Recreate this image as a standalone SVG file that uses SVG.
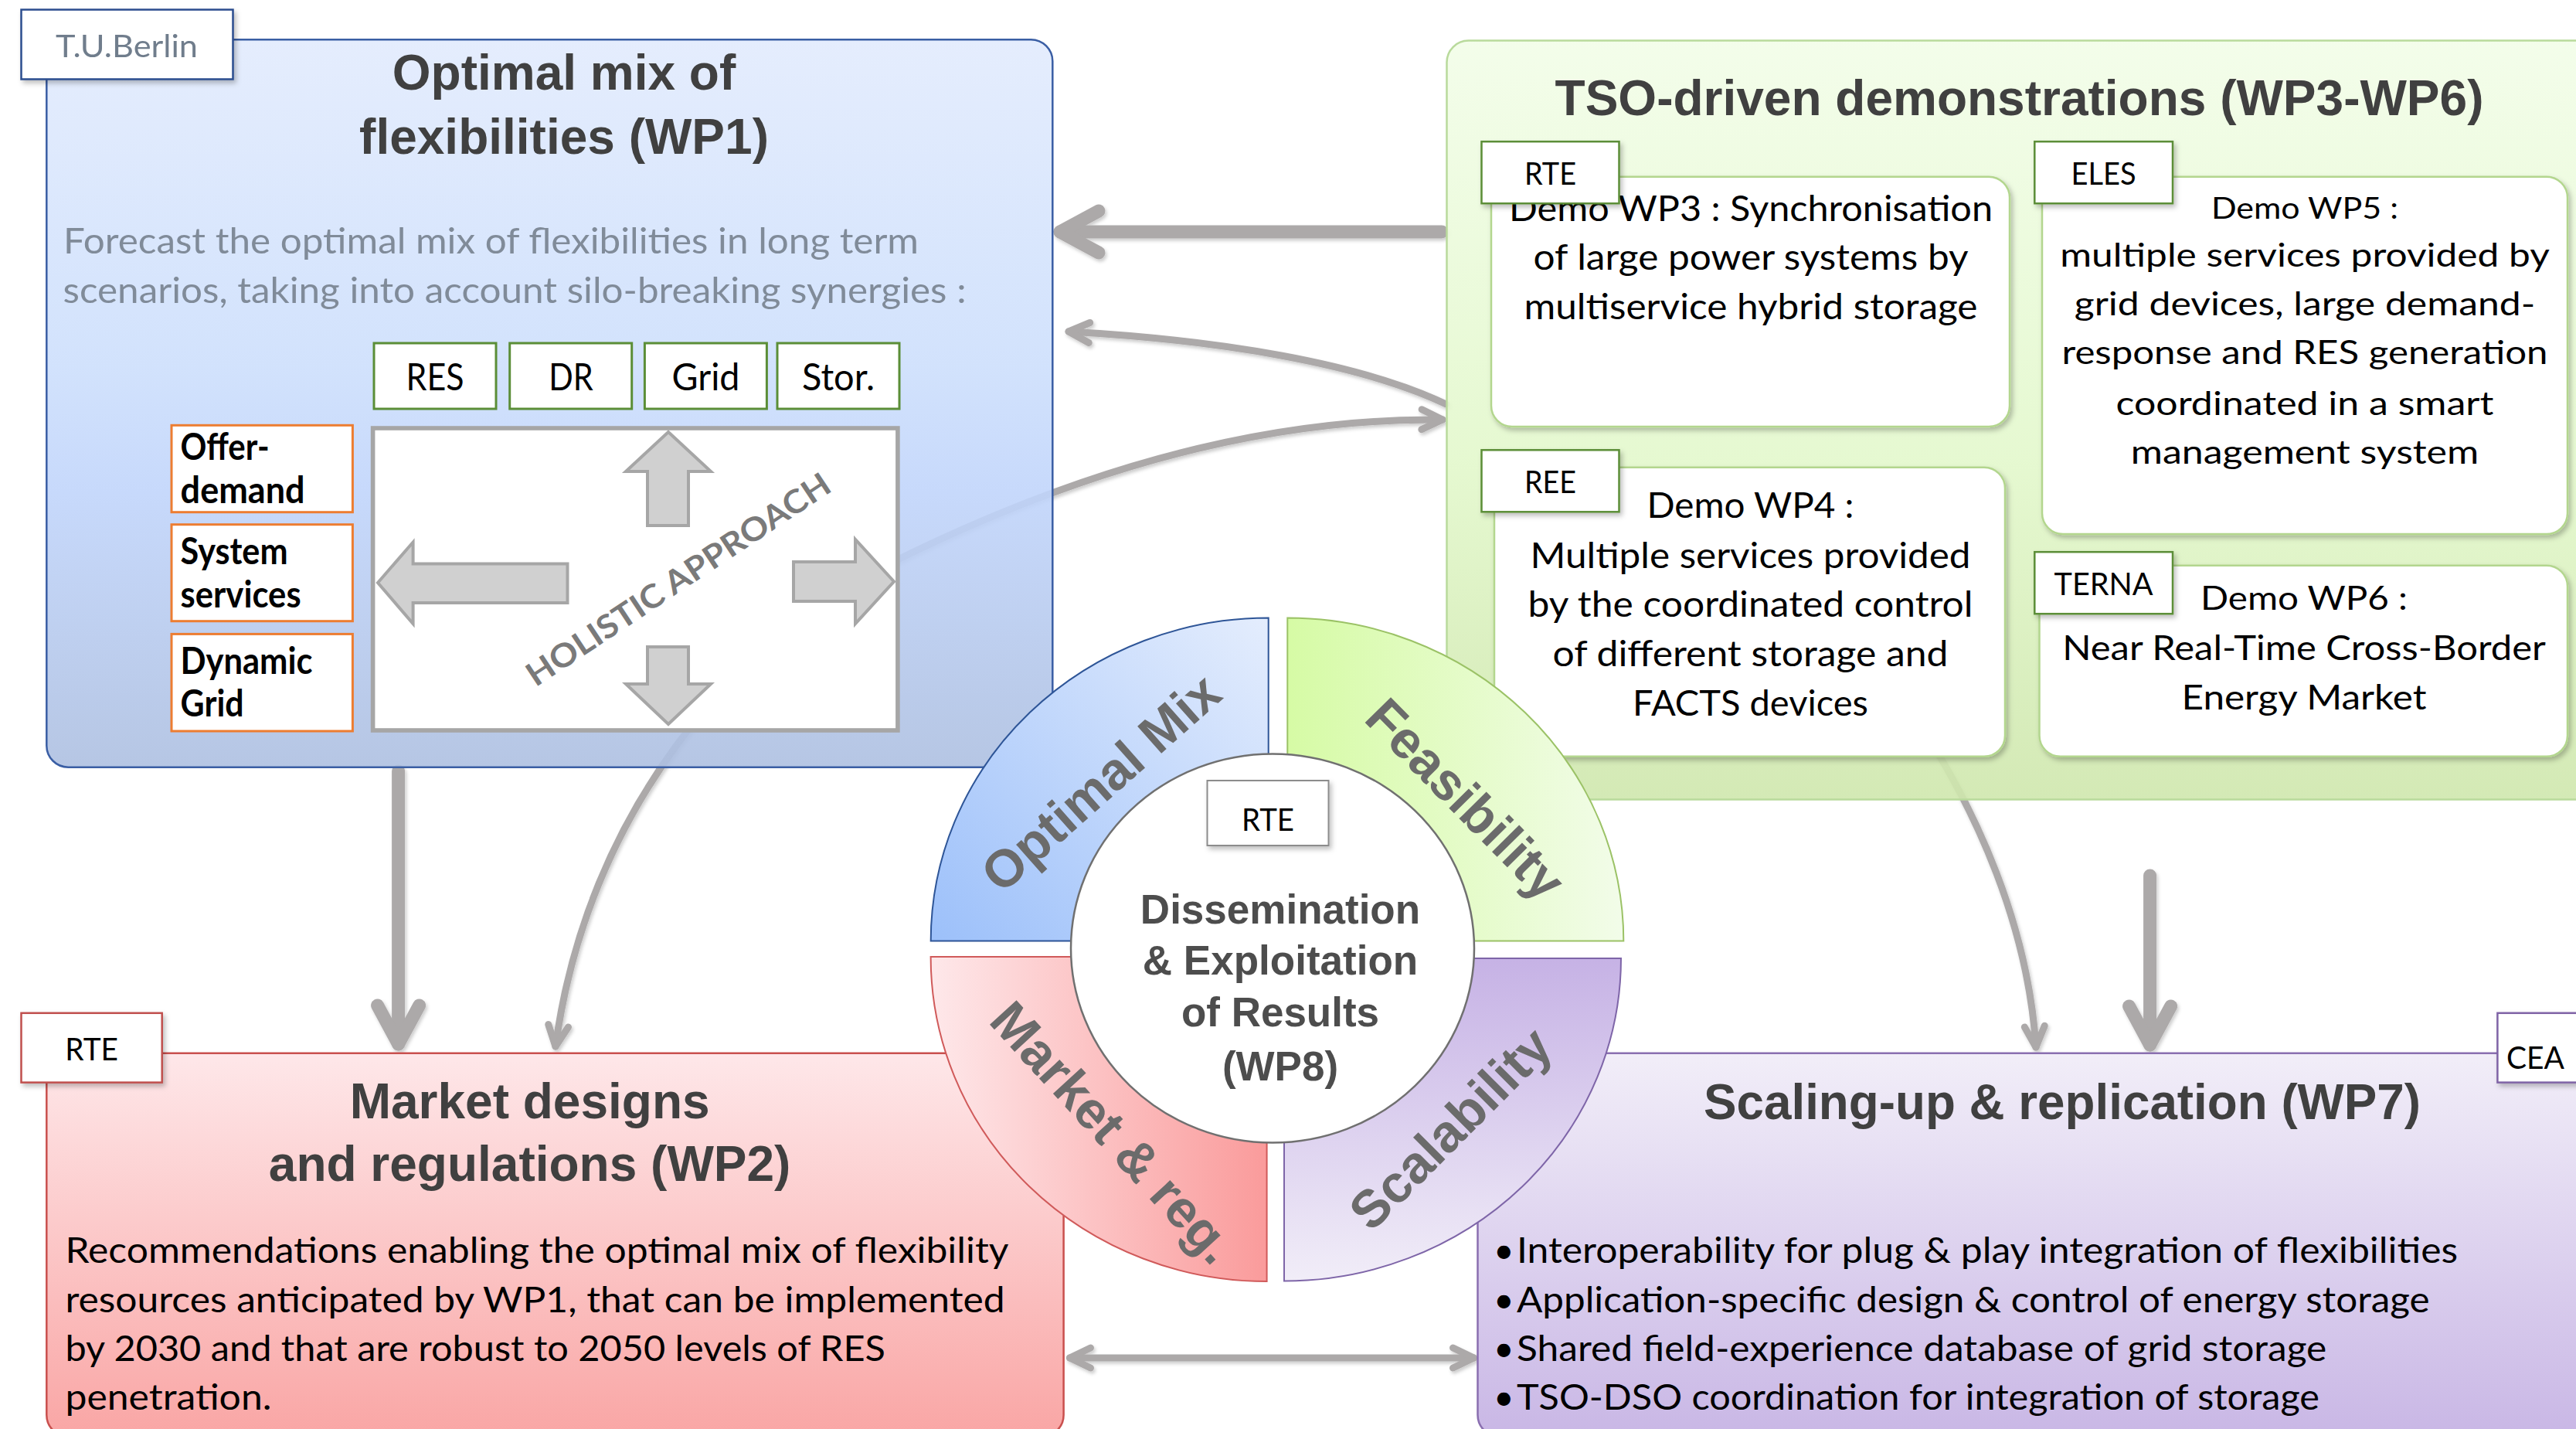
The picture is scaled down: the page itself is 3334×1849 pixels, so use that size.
<svg xmlns="http://www.w3.org/2000/svg" width="3334" height="1849" viewBox="0 0 3334 1849">
<defs>
<style>
.ttl{font-family:'Liberation Sans',Arial,sans-serif;font-weight:bold;font-size:64px;fill:#404040}
.ctr{font-family:'Liberation Sans',Arial,sans-serif;font-weight:bold;font-size:53px;fill:#4d4d4d;text-anchor:middle}
.q{font-family:'Liberation Sans',Arial,sans-serif;font-weight:bold;font-size:68px;fill:#6b6b6b;text-anchor:middle}
.t{font-family:Lato,'Open Sans',sans-serif;fill:#000}
.sub{font-family:Lato,'Open Sans',sans-serif;font-size:47px;fill:#808b99}
.bd{font-family:Lato,'Open Sans',sans-serif;font-weight:bold;font-size:47px;fill:#000}
.lb{font-family:Lato,'Open Sans',sans-serif;font-size:41px;fill:#000;text-anchor:middle}
.mid{text-anchor:middle}
.wbox{fill:#fff;stroke:#b3d68e;stroke-width:2.5}
.glbl{fill:#fff;stroke:#5b8e37;stroke-width:2.5}
.arr{fill:#d0d0d0;stroke:#a6a6a6;stroke-width:4;stroke-linejoin:miter}
</style>
<linearGradient id="gBlue" x1="0" y1="0" x2="0" y2="1">
<stop offset="0" stop-color="#e2ebfd"/><stop offset="0.45" stop-color="#cddffc"/><stop offset="0.62" stop-color="#c1d5fb"/><stop offset="1" stop-color="#aec0e1"/>
</linearGradient>
<linearGradient id="gGreen" x1="0" y1="0" x2="0" y2="1">
<stop offset="0" stop-color="#f2fde8"/><stop offset="0.55" stop-color="#e3f8cc"/><stop offset="1" stop-color="#cfe7ad"/>
</linearGradient>
<linearGradient id="gRed" x1="0" y1="0" x2="0" y2="1">
<stop offset="0" stop-color="#fee6e8"/><stop offset="1" stop-color="#f9a1a0"/>
</linearGradient>
<linearGradient id="gPurple" x1="0" y1="0" x2="0" y2="1">
<stop offset="0" stop-color="#f1edf8"/><stop offset="1" stop-color="#c6b3e4"/>
</linearGradient>
<linearGradient id="qBlue" x1="1" y1="0" x2="0" y2="1">
<stop offset="0" stop-color="#e4edfd"/><stop offset="1" stop-color="#9cc0fa"/>
</linearGradient>
<linearGradient id="qGreen" x1="0" y1="0" x2="1" y2="0">
<stop offset="0" stop-color="#d6fba5"/><stop offset="1" stop-color="#f2fce9"/>
</linearGradient>
<linearGradient id="qRed" x1="0" y1="0" x2="1" y2="0">
<stop offset="0" stop-color="#fee8ea"/><stop offset="1" stop-color="#fa9b9b"/>
</linearGradient>
<linearGradient id="qPurple" x1="0" y1="0" x2="0" y2="1">
<stop offset="0" stop-color="#c6b2e5"/><stop offset="1" stop-color="#f1edf8"/>
</linearGradient>
<filter id="sh" x="-10%" y="-10%" width="120%" height="130%">
<feDropShadow dx="3" dy="4" stdDeviation="3" flood-color="#000" flood-opacity="0.25"/>
</filter>
<filter id="csh" x="-10%" y="-10%" width="120%" height="120%">
<feDropShadow dx="2" dy="3" stdDeviation="2" flood-color="#000" flood-opacity="0.2"/>
</filter>
<marker id="hThick" markerUnits="userSpaceOnUse" viewBox="-70 -45 90 90" markerWidth="90" markerHeight="90" refX="0" refY="0" orient="auto-start-reverse" overflow="visible">
<path d="M-50 -27 L0 0 L-50 27" fill="none" stroke="#aca9a9" stroke-width="17" stroke-linecap="round" stroke-linejoin="round"/>
</marker>
<marker id="hThin" markerUnits="userSpaceOnUse" viewBox="-40 -25 50 50" markerWidth="50" markerHeight="50" refX="0" refY="0" orient="auto-start-reverse" overflow="visible">
<path d="M-27 -13 L0 0 L-27 13" fill="none" stroke="#aca9a9" stroke-width="9" stroke-linecap="round" stroke-linejoin="round"/>
</marker>
</defs>

<rect x="0" y="0" width="3334" height="1849" fill="#fff"/>

<g id="connectors" fill="none" stroke="#aca9a9" stroke-linecap="round" filter="url(#csh)">
<path d="M1866 300 L1372 300" stroke-width="17" marker-end="url(#hThick)"/>
<path d="M515.6 998 L515.6 1351" stroke-width="17" marker-end="url(#hThick)"/>
<path d="M2782.6 1133 L2782.6 1352" stroke-width="17" marker-end="url(#hThick)"/>
<path d="M1871.7 523 C1760 470 1580 440 1383 429" stroke-width="9" marker-end="url(#hThin)"/>
<path d="M719 1354 C760 1050 950 830 1150 730 C1350 630 1600 540 1867 543" stroke-width="9" marker-start="url(#hThin)" marker-end="url(#hThin)"/>
<path d="M2480 930 C2560 1050 2625 1200 2635 1355" stroke-width="9" marker-end="url(#hThin)"/>
<path d="M1384.5 1757 L1907.5 1757" stroke-width="9" marker-start="url(#hThin)" marker-end="url(#hThin)"/>
</g>

<g id="wp1">
<rect x="60.3" y="51.2" width="1302" height="941.5" rx="28" fill="url(#gBlue)" fill-opacity="0.9" stroke="#3a5ea4" stroke-width="2.5"/>
<text class="ttl" x="730" y="115.7" text-anchor="middle">Optimal mix of</text>
<text class="ttl" x="730" y="198.5" text-anchor="middle">flexibilities (WP1)</text>
<text class="sub" x="82" y="328" textLength="1107" lengthAdjust="spacingAndGlyphs">Forecast the optimal mix of flexibilities in long term</text>
<text class="sub" x="81.5" y="391.5" textLength="1169" lengthAdjust="spacingAndGlyphs">scenarios, taking into account silo-breaking synergies :</text>
<g id="wp1-res"><rect x="484" y="444" width="158" height="85" fill="#fff" stroke="#5b8e37" stroke-width="3"/><text class="t mid" x="563" y="505" font-size="49" textLength="75" lengthAdjust="spacingAndGlyphs">RES</text></g>
<g id="wp1-dr"><rect x="659.7" y="444" width="158" height="85" fill="#fff" stroke="#5b8e37" stroke-width="3"/><text class="t mid" x="739" y="505" font-size="49" textLength="57.5" lengthAdjust="spacingAndGlyphs">DR</text></g>
<g id="wp1-grid"><rect x="834.4" y="444" width="158" height="85" fill="#fff" stroke="#5b8e37" stroke-width="3"/><text class="t mid" x="913.5" y="505" font-size="49" textLength="88" lengthAdjust="spacingAndGlyphs">Grid</text></g>
<g id="wp1-stor"><rect x="1006" y="444" width="158" height="85" fill="#fff" stroke="#5b8e37" stroke-width="3"/><text class="t mid" x="1085" y="505" font-size="49" textLength="94" lengthAdjust="spacingAndGlyphs">Stor.</text></g>
<g id="wp1-offer"><rect x="222" y="550.3" width="234.4" height="112.4" fill="#fff" stroke="#ed7d31" stroke-width="3"/>
<text class="bd" x="233.6" y="595" textLength="115" lengthAdjust="spacingAndGlyphs">Offer-</text>
<text class="bd" x="233.6" y="651" textLength="161" lengthAdjust="spacingAndGlyphs">demand</text></g>
<g id="wp1-sys"><rect x="222" y="678.7" width="234.4" height="125" fill="#fff" stroke="#ed7d31" stroke-width="3"/>
<text class="bd" x="233.6" y="729.6" textLength="139" lengthAdjust="spacingAndGlyphs">System</text>
<text class="bd" x="233.6" y="785.7" textLength="156" lengthAdjust="spacingAndGlyphs">services</text></g>
<g id="wp1-dyn"><rect x="222" y="820.4" width="234.4" height="125.6" fill="#fff" stroke="#ed7d31" stroke-width="3"/>
<text class="bd" x="233.6" y="872" textLength="171" lengthAdjust="spacingAndGlyphs">Dynamic</text>
<text class="bd" x="233.6" y="927.4" textLength="82" lengthAdjust="spacingAndGlyphs">Grid</text></g>
<g id="wp1-holistic">
<rect x="482.6" y="554" width="679.3" height="391" fill="#fff" stroke="#a6a6a6" stroke-width="5.6"/>
<polygon class="arr" points="865,559 920,610 891,610 891,680 838,680 838,610 810,610"/>
<polygon class="arr" points="838,837 891,837 891,885 920,885 865,937 810,885 838,885"/>
<polygon class="arr" points="489,754 534.6,701.5 534.6,729.6 734.5,729.6 734.5,780 534.6,780 534.6,807"/>
<polygon class="arr" points="1027,727 1107,727 1107,698 1157,752.5 1107,807 1107,778 1027,778"/>
<text transform="translate(886,762) rotate(-33.5)" text-anchor="middle" font-family="Lato,'Open Sans',sans-serif" font-weight="bold" font-size="42" fill="#7a7a7a" textLength="462" lengthAdjust="spacingAndGlyphs">HOLISTIC APPROACH</text>
</g>
</g>
<g id="lbl-tub" filter="url(#sh)">
<rect x="27.5" y="12.5" width="274" height="90" fill="#fff" stroke="#2c4d8e" stroke-width="2.5"/>
<text class="lb" x="164" y="74.4" font-size="43" style="fill:#6f7d8c" textLength="184" lengthAdjust="spacingAndGlyphs">T.U.Berlin</text>
</g>

<g id="tso">
<rect x="1872.5" y="52.6" width="1500" height="982" rx="28" fill="url(#gGreen)" fill-opacity="0.9" stroke="#b9da9c" stroke-width="2.5"/>
<text class="ttl" x="2613.5" y="149.4" text-anchor="middle">TSO-driven demonstrations (WP3-WP6)</text>
</g>
<g id="wp3">
<rect class="wbox" x="1930" y="228.7" width="671" height="323.3" rx="27" filter="url(#sh)"/>
<text class="t mid" x="2266" y="286" font-size="46" textLength="626" lengthAdjust="spacingAndGlyphs">Demo WP3 : Synchronisation</text>
<text class="t mid" x="2266" y="348.6" font-size="46" textLength="563" lengthAdjust="spacingAndGlyphs">of large power systems by</text>
<text class="t mid" x="2266" y="412.5" font-size="46" textLength="587" lengthAdjust="spacingAndGlyphs">multiservice hybrid storage</text>
<g filter="url(#sh)"><rect class="glbl" x="1917.5" y="183.2" width="178" height="80"/></g>
<text class="lb" x="2006.5" y="238.5" textLength="67" lengthAdjust="spacingAndGlyphs">RTE</text>
</g>
<g id="wp4">
<rect class="wbox" x="1934" y="604.7" width="661" height="374" rx="27" filter="url(#sh)"/>
<g filter="url(#sh)"><rect class="glbl" x="1917.5" y="582.3" width="178" height="80"/></g>
<text class="lb" x="2006.5" y="638.4" textLength="67" lengthAdjust="spacingAndGlyphs">REE</text>
<text class="t mid" x="2265.5" y="670" font-size="46" textLength="268" lengthAdjust="spacingAndGlyphs">Demo WP4 :</text>
<text class="t mid" x="2265.5" y="734.5" font-size="46" textLength="570" lengthAdjust="spacingAndGlyphs">Multiple services provided</text>
<text class="t mid" x="2265.5" y="798.3" font-size="46" textLength="576" lengthAdjust="spacingAndGlyphs">by the coordinated control</text>
<text class="t mid" x="2265.5" y="861.5" font-size="46" textLength="512" lengthAdjust="spacingAndGlyphs">of different storage and</text>
<text class="t mid" x="2265.5" y="926" font-size="46" textLength="305" lengthAdjust="spacingAndGlyphs">FACTS devices</text>
</g>
<g id="wp5">
<rect class="wbox" x="2643" y="228.7" width="680" height="462.3" rx="27" filter="url(#sh)"/>
<g filter="url(#sh)"><rect class="glbl" x="2633.3" y="183.2" width="178.7" height="80"/></g>
<text class="lb" x="2722.6" y="238.5" textLength="84" lengthAdjust="spacingAndGlyphs">ELES</text>
<text class="t mid" x="2983" y="282.7" font-size="38" textLength="242" lengthAdjust="spacingAndGlyphs">Demo WP5 :</text>
<text class="t mid" x="2983" y="345.1" font-size="43" textLength="633.5" lengthAdjust="spacingAndGlyphs">multiple services provided by</text>
<text class="t mid" x="2983" y="408.3" font-size="43" textLength="596.4" lengthAdjust="spacingAndGlyphs">grid devices, large demand-</text>
<text class="t mid" x="2983" y="471.4" font-size="43" textLength="629" lengthAdjust="spacingAndGlyphs">response and RES generation</text>
<text class="t mid" x="2983" y="536.7" font-size="43" textLength="489" lengthAdjust="spacingAndGlyphs">coordinated in a smart</text>
<text class="t mid" x="2983" y="599.8" font-size="43" textLength="450.4" lengthAdjust="spacingAndGlyphs">management system</text>
</g>
<g id="wp6">
<rect class="wbox" x="2639.5" y="731.7" width="683.5" height="247" rx="27" filter="url(#sh)"/>
<g filter="url(#sh)"><rect class="glbl" x="2633.3" y="714.2" width="178.7" height="80"/></g>
<text class="lb" x="2722.6" y="769.5" textLength="128" lengthAdjust="spacingAndGlyphs">TERNA</text>
<text class="t mid" x="2982" y="789" font-size="42" textLength="268" lengthAdjust="spacingAndGlyphs">Demo WP6 :</text>
<text class="t mid" x="2982" y="854.4" font-size="45" textLength="625.7" lengthAdjust="spacingAndGlyphs">Near Real-Time Cross-Border</text>
<text class="t mid" x="2982" y="917.6" font-size="45" textLength="317" lengthAdjust="spacingAndGlyphs">Energy Market</text>
</g>

<g id="wp2">
<rect x="60.3" y="1362.8" width="1316.3" height="496" rx="28" fill="url(#gRed)" fill-opacity="0.95" stroke="#c9504e" stroke-width="2.5"/>
<text class="ttl" x="685.6" y="1447" text-anchor="middle">Market designs</text>
<text class="ttl" x="685.6" y="1527.7" text-anchor="middle">and regulations (WP2)</text>
<text class="t" x="84.5" y="1634.3" font-size="46" textLength="1221" lengthAdjust="spacingAndGlyphs">Recommendations enabling the optimal mix of flexibility</text>
<text class="t" x="84.5" y="1697.5" font-size="46" textLength="1216" lengthAdjust="spacingAndGlyphs">resources anticipated by WP1, that can be implemented</text>
<text class="t" x="84.5" y="1760.6" font-size="46" textLength="1061.5" lengthAdjust="spacingAndGlyphs">by 2030 and that are robust to 2050 levels of RES</text>
<text class="t" x="84.5" y="1823.8" font-size="46" textLength="267" lengthAdjust="spacingAndGlyphs">penetration.</text>
<g filter="url(#sh)"><rect x="27.5" y="1310.8" width="182.2" height="89.8" fill="#fff" stroke="#c0504d" stroke-width="2.5"/></g>
<text class="lb" x="118.6" y="1372" textLength="68.7" lengthAdjust="spacingAndGlyphs">RTE</text>
</g>

<g id="wp7">
<rect x="1912.5" y="1362.8" width="1460" height="496" rx="28" fill="url(#gPurple)" fill-opacity="0.95" stroke="#8a6fb0" stroke-width="2.5"/>
<text class="ttl" x="2205" y="1448.4" textLength="928" lengthAdjust="spacingAndGlyphs">Scaling-up &amp; replication (WP7)</text>
<text class="t" x="1933" y="1634.3" font-size="46">•</text>
<text class="t" x="1933" y="1697.5" font-size="46">•</text>
<text class="t" x="1933" y="1760.6" font-size="46">•</text>
<text class="t" x="1933" y="1823.8" font-size="46">•</text>
<text class="t" x="1963" y="1634.3" font-size="46" textLength="1218" lengthAdjust="spacingAndGlyphs">Interoperability for plug &amp; play integration of flexibilities</text>
<text class="t" x="1963" y="1697.5" font-size="46" textLength="1181.6" lengthAdjust="spacingAndGlyphs">Application-specific design &amp; control of energy storage</text>
<text class="t" x="1963" y="1760.6" font-size="46" textLength="1048.3" lengthAdjust="spacingAndGlyphs">Shared field-experience database of grid storage</text>
<text class="t" x="1963" y="1823.8" font-size="46" textLength="1039" lengthAdjust="spacingAndGlyphs">TSO-DSO coordination for integration of storage</text>
<g filter="url(#sh)"><rect x="3232.4" y="1310.8" width="182" height="89.8" fill="#fff" stroke="#7f64a6" stroke-width="2.5"/></g>
<text class="t" x="3244" y="1382.5" font-size="41" textLength="75" lengthAdjust="spacingAndGlyphs">CEA</text>
</g>

<g id="wheel">
<g id="q-optimal">
<path d="M1204.7 1217.6 A437 418 0 0 1 1641.7 799.6 L1641.7 1027.6 A200 190 0 0 0 1441.7 1217.6 Z" fill="url(#qBlue)" stroke="#2e5597" stroke-width="2"/>
<text class="q" transform="translate(1440.3,1030.3) rotate(-41.5)">Optimal Mix</text>
</g>
<g id="q-feasibility">
<path d="M1666.3 799.6 A435 418 0 0 1 2101.3 1217.6 L1866.3 1217.6 A200 190 0 0 0 1666.3 1027.6 Z" fill="url(#qGreen)" stroke="#9bc266" stroke-width="2"/>
<text class="q" transform="translate(1880,1050.3) rotate(45.5)">Feasibility</text>
</g>
<g id="q-market">
<path d="M1204.6 1238 A435 420 0 0 0 1639.6 1658 L1639.6 1428 A200 190 0 0 1 1439.6 1238 Z" fill="url(#qRed)" stroke="#d05a5a" stroke-width="2"/>
<text class="q" transform="translate(1423.5,1481.2) rotate(47.5)">Market &amp; reg.</text>
</g>
<g id="q-scalability">
<path d="M1662 1657.5 A436 417.5 0 0 0 2098 1240 L1862 1240 A200 190 0 0 1 1662 1430 Z" fill="url(#qPurple)" stroke="#7e65a8" stroke-width="2"/>
<text class="q" transform="translate(1893.8,1476.6) rotate(-45)">Scalability</text>
</g>
<g id="wp8">
<ellipse cx="1647" cy="1227" rx="261" ry="251.5" fill="#fff" stroke="#707070" stroke-width="2.5"/>
<g filter="url(#sh)"><rect x="1562.5" y="1010" width="157" height="84" fill="#fff" stroke="#8c8c8c" stroke-width="2"/></g>
<text class="lb" x="1641" y="1075.2" textLength="68" lengthAdjust="spacingAndGlyphs">RTE</text>
<text class="ctr" x="1657" y="1194.5">Dissemination</text>
<text class="ctr" x="1657" y="1261">&amp; Exploitation</text>
<text class="ctr" x="1657" y="1327.8">of Results</text>
<text class="ctr" x="1657" y="1398">(WP8)</text>
</g>
</g>
</svg>
